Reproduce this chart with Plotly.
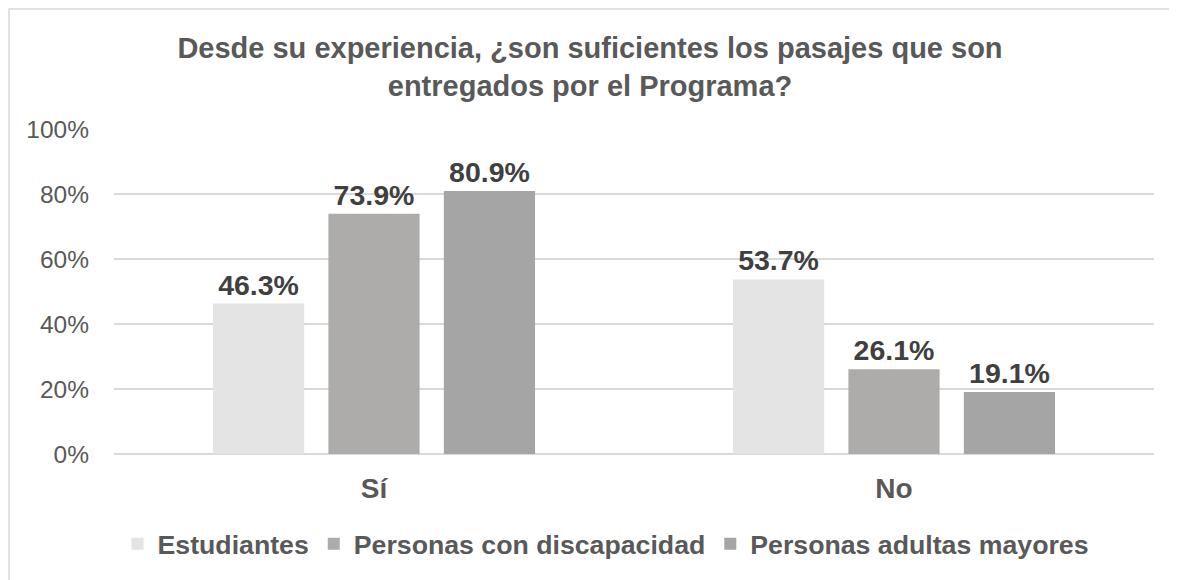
import plotly.graph_objects as go

categories = ["Sí", "No"]
series_names = ["Estudiantes", "Personas con discapacidad", "Personas adultas mayores"]
estudiantes = [0.463, 0.537]
discapacidad = [0.739, 0.261]
adultas_mayores = [0.809, 0.191]
colors = ["#e4e4e4", "#aeabab", "#a5a5a5"]
y_ticks = [0, 0.2, 0.4, 0.6, 0.8, 1.0]
y_tick_labels = ["0%", "20%", "40%", "60%", "80%", "100%"]
title_text = "Desde su experiencia, ¿son suficientes los pasajes que son<br>entregados por el Programa?"

FONT = "Liberation Sans, Arial, sans-serif"

fig = go.Figure()
for name, vals, col in zip(series_names, [estudiantes, discapacidad, adultas_mayores], colors):
    fig.add_trace(go.Bar(
        name=name, x=categories, y=vals,
        marker=dict(color=col, line=dict(width=0)),
        text=[f"{v*100:.1f}%" for v in vals],
        textposition="outside",
        constraintext="none",
        textfont=dict(family=FONT, size=28.5, color="#404040", weight="bold"),
        cliponaxis=False,
    ))

W, H = 1177, 580
L, R, T, B = 106, 31, 121, 134
pw, ph = W - L - R, H - T - B

fig.update_layout(
    width=W, height=H,
    margin=dict(l=L, r=R, t=T, b=B, autoexpand=False),
    paper_bgcolor="white", plot_bgcolor="white",
    barmode="group", bargap=0.334, bargroupgap=0.21,
    font=dict(family=FONT, size=24, color="#595959"),
    title=dict(text=title_text, x=582 / W, xref="container", xanchor="center",
               y=1 - 50 / H, yref="container", yanchor="middle",
               font=dict(family=FONT, size=29, color="#595959", weight="bold")),
    showlegend=True,
    legend=dict(orientation="h", x=(598 - L) / pw, xanchor="center", xref="paper",
                y=-(536 - (T + ph)) / ph, yanchor="middle", yref="paper",
                font=dict(family=FONT, size=26.7, color="#595959", weight="bold"),
                traceorder="normal", bgcolor="rgba(0,0,0,0)"),
    xaxis=dict(showgrid=False, showline=False, ticks="",
               tickfont=dict(family=FONT, size=28, color="#595959", weight="bold"),
               ticklabelstandoff=15),
    yaxis=dict(range=[0, 1.0], tickvals=y_ticks, ticktext=y_tick_labels,
               showgrid=True, gridcolor="#d9d9d9", gridwidth=1.5,
               zeroline=True, zerolinecolor="#d9d9d9", zerolinewidth=1.5,
               showline=False, ticks="", ticklabelstandoff=24,
               tickfont=dict(family=FONT, size=24.5, color="#595959")),
    shapes=[dict(type="rect", xref="paper", yref="paper",
                 x0=(1 - L) / pw, x1=(W + 10 - L) / pw,
                 y0=-(H + 10 - (T + ph)) / ph, y1=(T + ph - 1) / ph,
                 line=dict(color="#d9d9d9", width=1.5), fillcolor="rgba(0,0,0,0)",
                 layer="below")],
)

fig.write_html("out.html")
